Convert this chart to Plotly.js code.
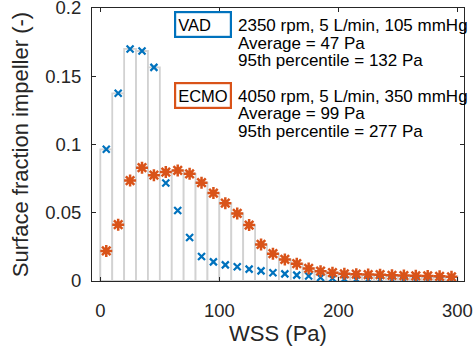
<!DOCTYPE html>
<html>
<head>
<meta charset="utf-8">
<script src="https://cdn.plot.ly/plotly-3.0.1.min.js"></script>
<style>html,body{margin:0;padding:0;background:#fff;}#chart{width:475px;height:351px;}</style>
</head>
<body>
<div id="chart"></div>
<script>
const wssBins = [5,15,25,35,45,55,65,75,85,95,105,115,125,135,145,155,165,175,185,195,205,215,225,235,245,255,265,275,285,295];
const vadFraction = [0.0965,0.1375,0.1700,0.1685,0.1565,0.0718,0.0516,0.0318,0.0180,0.0140,0.0118,0.0104,0.0087,0.0074,0.0060,0.0052,0.0043,0.0036,0.0026,0.0019,0.0014,0.0012,0.0011,0.0010,0.0009,0.0008,0.0008,0.0007,0.0006,0.0005];
const ecmoFraction = [0.0220,0.0413,0.0736,0.0830,0.0775,0.0798,0.0810,0.0785,0.0720,0.0644,0.0570,0.0495,0.0410,0.0268,0.0200,0.0158,0.0127,0.0092,0.0072,0.0061,0.0053,0.0050,0.0047,0.0046,0.0042,0.0040,0.0038,0.0037,0.0034,0.0031];
const vadLines = ["2350 rpm, 5 L/min, 105 mmHg","Average = 47 Pa","95th percentile = 132 Pa"];
const ecmoLines = ["4050 rpm, 5 L/min, 350 mmHg","Average = 99 Pa","95th percentile = 277 Pa"];
const xTicks = [0,100,200,300];
const yTicks = [0,0.05,0.1,0.15,0.2];

const FONT = '"Liberation Sans", Arial, Helvetica, sans-serif';
const TXT = '#262626';
const BLUE = '#0072BD';
const ORANGE = '#D95319';

const barStyle = {color:'#ffffff', line:{color:'#d2d2d2', width:1.8}};
const traces = [
  {type:'bar', x:wssBins, y:vadFraction, width:10, marker:barStyle, hoverinfo:'skip', showlegend:false},
  {type:'bar', x:wssBins, y:ecmoFraction, width:10, marker:barStyle, hoverinfo:'skip', showlegend:false},
  {type:'scatter', mode:'markers', x:wssBins, y:vadFraction, showlegend:false,
   marker:{symbol:'x-thin-open', size:7, color:BLUE, line:{color:BLUE, width:2.2}}},
  {type:'scatter', mode:'markers', x:wssBins, y:ecmoFraction, showlegend:false,
   marker:{symbol:'asterisk-open', size:10, color:ORANGE, line:{color:ORANGE, width:2.5}}}
];

// pixel -> paper helpers (plot area: x 92..464, y 8..281.5)
const L = 92, R = 464, T = 8, B = 281.5;
const px = v => (v - L) / (R - L);
const py = v => (B - v) / (B - T);

const annotations = [];
function box(label, color, cy){
  annotations.push({xref:'paper', yref:'paper', x:px(174), y:py(cy), xanchor:'left', yanchor:'middle',
    text:label, showarrow:false, align:'left', width:50, height:19, borderpad:2,
    bordercolor:color, borderwidth:2.2, bgcolor:'#ffffff',
    font:{family:FONT, size:16.5, color:'#000000'}});
}
function lines(arr, cys){
  arr.forEach((t,i)=>annotations.push({xref:'paper', yref:'paper', x:px(236), y:py(cys[i]),
    xanchor:'left', yanchor:'middle', text:t, showarrow:false, align:'left',
    font:{family:FONT, size:17, color:'#000000'}}));
}
box('VAD', BLUE, 25);
lines(vadLines, [26, 43.5, 61]);
box('ECMO', ORANGE, 95.5);
lines(ecmoLines, [96.5, 114, 131.5]);

const layout = {
  width:475, height:351,
  margin:{l:92, r:11, t:8, b:69.5, pad:0},
  paper_bgcolor:'#ffffff', plot_bgcolor:'#ffffff',
  barmode:'overlay', bargap:0,
  font:{family:FONT, color:TXT},
  xaxis:{range:[-7,305.5], tickvals:xTicks, ticktext:xTicks.map(String),
    ticks:'inside', ticklen:4, tickcolor:TXT, showline:true, linecolor:TXT, linewidth:1, mirror:'ticks',
    showgrid:false, zeroline:false, tickfont:{family:FONT, size:18.5, color:TXT}, ticklabelstandoff:13,
    ticklabeloverflow:'allow',
    title:{text:'WSS (Pa)', font:{family:FONT, size:22, color:TXT}, standoff:4}},
  yaxis:{range:[0,0.2], tickvals:yTicks, ticktext:['0','0.05','0.1','0.15','0.2'],
    ticks:'inside', ticklen:4, tickcolor:TXT, showline:true, linecolor:TXT, linewidth:1, mirror:'ticks',
    showgrid:false, zeroline:false, tickfont:{family:FONT, size:18.5, color:TXT}, ticklabelstandoff:6,
    ticklabeloverflow:'allow',
    title:{text:'Surface fraction impeller (-)', font:{family:FONT, size:22, color:TXT}, standoff:10}},
  annotations:annotations
};
Plotly.newPlot('chart', traces, layout, {staticPlot:true, displayModeBar:false});
</script>
</body>
</html>
